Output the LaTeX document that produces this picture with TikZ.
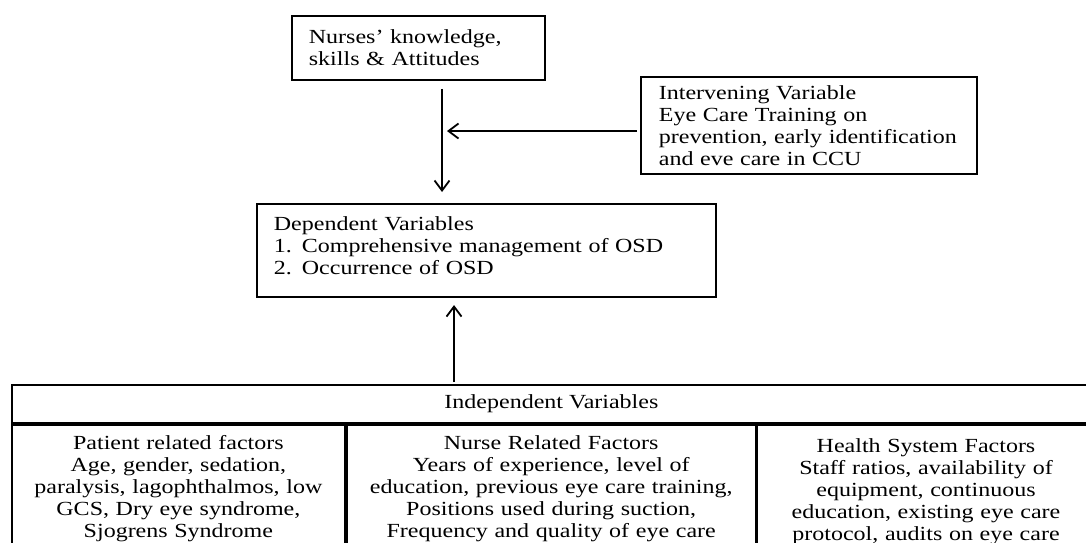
\documentclass[tikz,border=0pt]{standalone}
\usepackage{fontspec}
\setmainfont{Liberation Serif}[FakeStretch=1.2]
\usetikzlibrary{positioning,calc,arrows.meta}

\begin{document}
\begin{tikzpicture}[x=0.5pt,y=-0.5pt,line width=0.9pt,
  every node/.style={font=\fontsize{10}{11}\selectfont},
  box/.style={draw,rectangle,anchor=north west,align=left},
  cell/.style={draw,rectangle,anchor=north west,align=center,inner xsep=0pt,inner ysep=5.5pt,text depth=60pt},
  >={Straight Barb[length=5pt,width=7.5pt]}]
\useasboundingbox (0,0) rectangle (1086,542);

\node[box,text width=109.5pt,inner xsep=8.5pt,minimum height=32pt] (nurse-ksa) at (291,15) {Nurses’ knowledge,\\skills \& Attitudes};
\node[box,text width=150pt,inner xsep=9pt,inner ysep=2pt,minimum height=48.5pt] (var-intervening) at (640,76) {Intervening Variable\\Eye Care Training on\\prevention, early identification\\and eve care in CCU};
\node[box,text width=212.5pt,inner xsep=8.5pt,inner ysep=6.5pt,text depth=26.7pt] (var-dependent) at (256,203) {Dependent Variables\\1. Comprehensive management of OSD\\2. Occurrence of OSD};

\node[draw,rectangle,anchor=north west,minimum width=539.5pt,minimum height=19pt] (var-independent) at (11,384) {Independent Variables};
\node[cell,text width=166.5pt] (fac-patient) at (var-independent.south west) {Patient related factors\\Age, gender, sedation,\\paralysis, lagophthalmos, low\\GCS, Dry eye syndrome,\\Sjogrens Syndrome};
\node[cell,text width=204.5pt] (fac-nurse) at (fac-patient.north east) {Nurse Related Factors\\Years of experience, level of\\education, previous eye care training,\\Positions used during suction,\\Frequency and quality of eye care};
\node[cell,text width=168.5pt,inner ysep=7pt] (fac-system) at (fac-nurse.north east) {Health System Factors\\Staff ratios, availability of\\equipment, continuous\\education, existing eye care\\protocol, audits on eye care};

\coordinate (join) at (442,131);
\coordinate (rise) at (454,0);

\draw[->,shorten <=4pt,shorten >=5.5pt] (nurse-ksa.south -| join) -- (var-dependent.north -| join);
\draw[->,shorten <=1.5pt,shorten >=2.5pt] (var-intervening.west |- join) -- (join);
\draw[->,shorten <=1pt,shorten >=3.5pt] (var-independent.north -| rise) -- (var-dependent.south -| rise);
\end{tikzpicture}
\end{document}
